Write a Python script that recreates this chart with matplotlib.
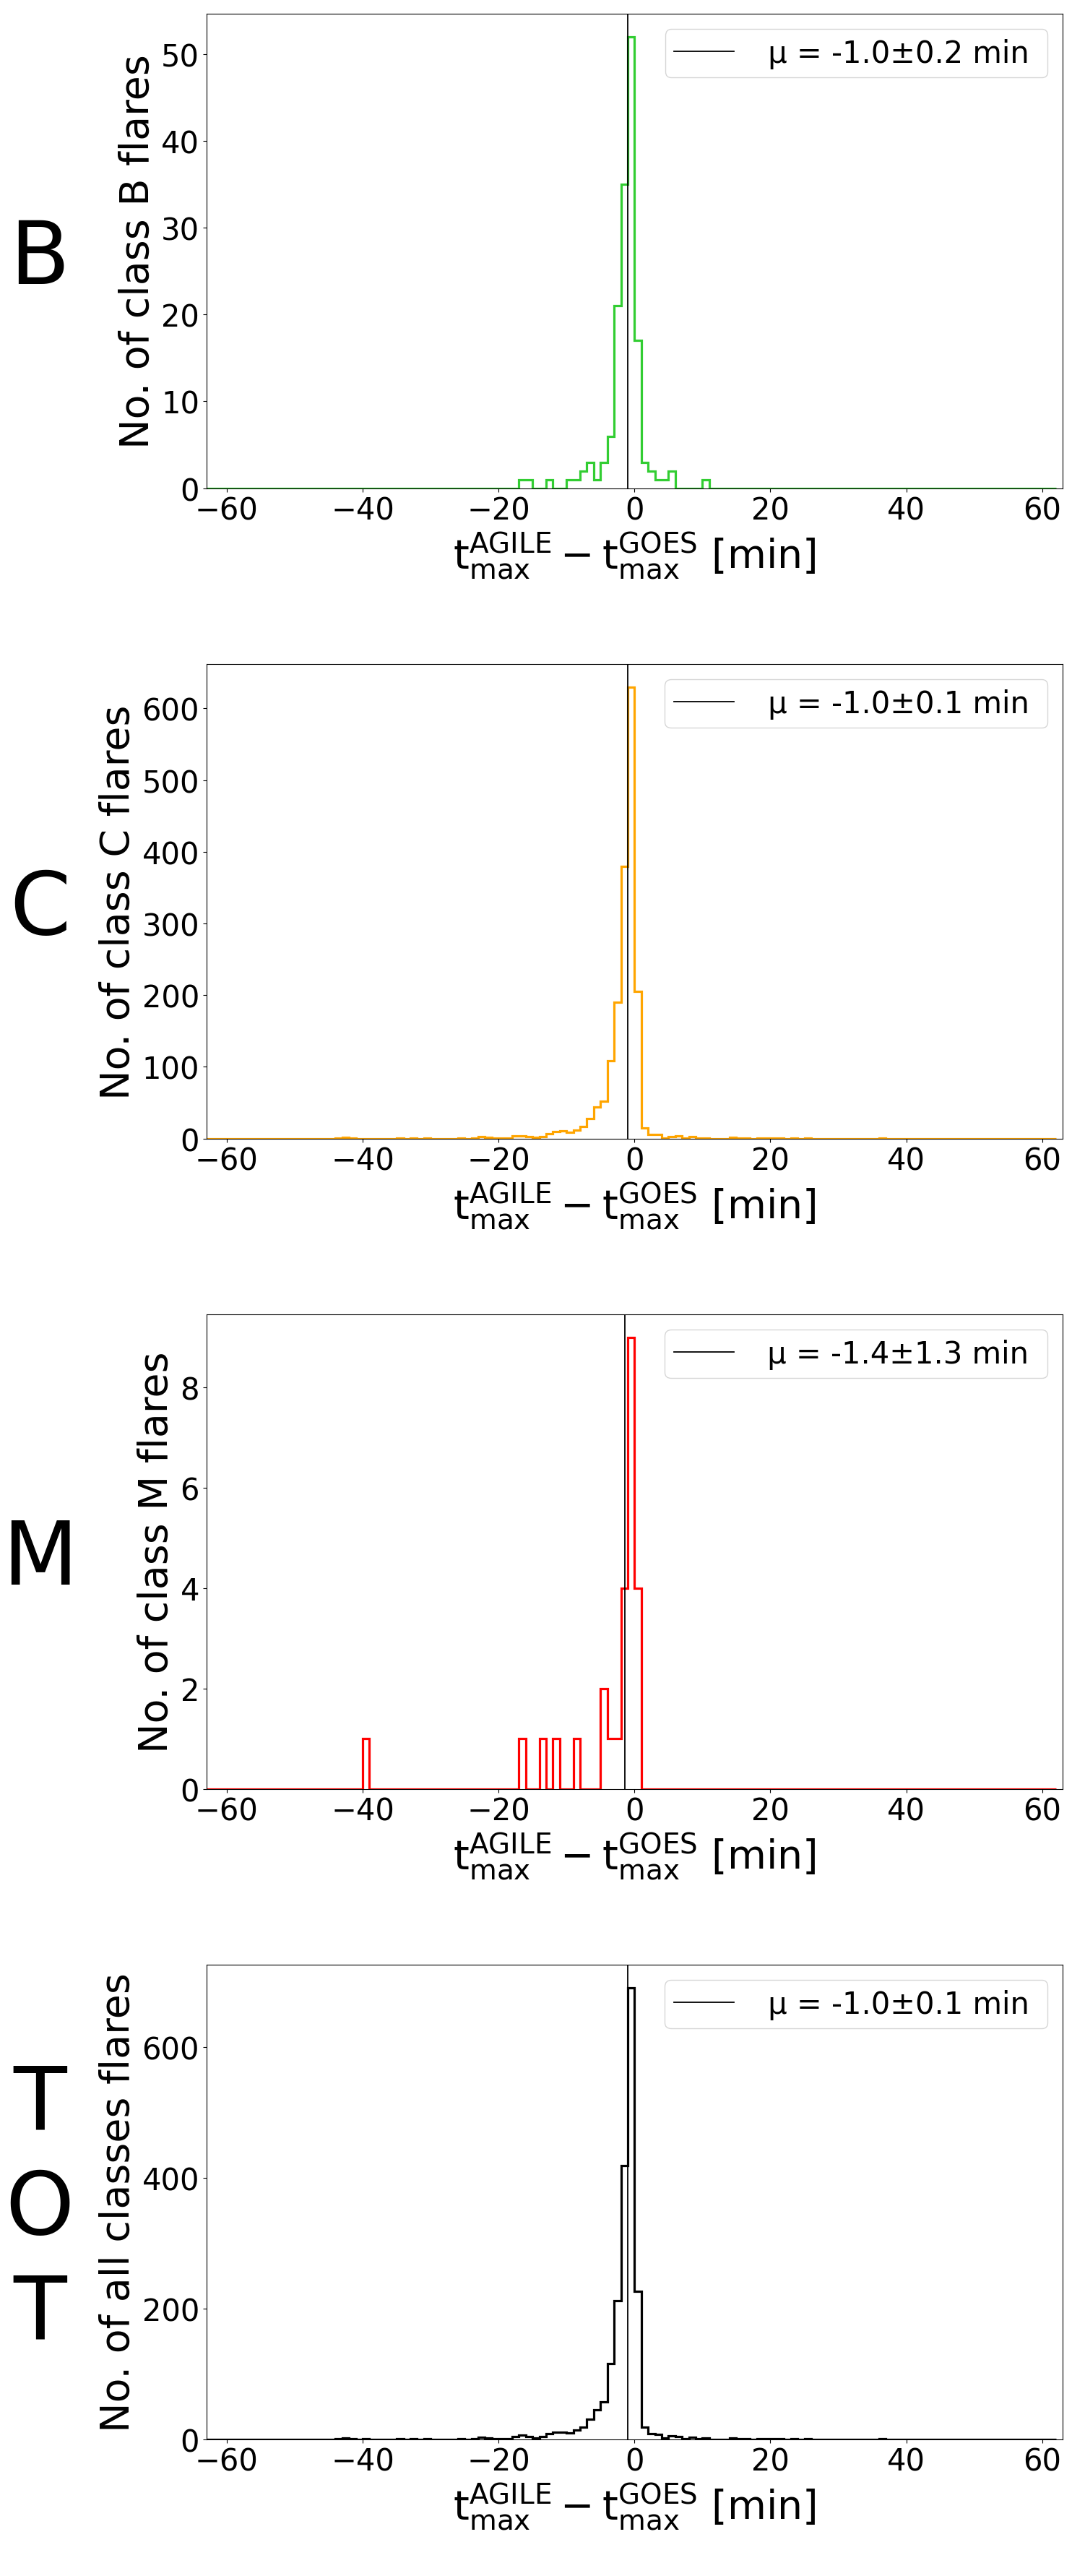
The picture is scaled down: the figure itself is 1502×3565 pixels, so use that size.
# Histograms of AGILE - GOES peak time difference per flare class

import numpy as np
import matplotlib
matplotlib.use("Agg")
import matplotlib.pyplot as plt
from matplotlib.ticker import MultipleLocator

plt.rcParams['mathtext.default'] = 'regular'

# bin edges (1 min wide)
edges = np.arange(-63, 63)

# non-empty bins: left edge of the bin and number of flares
b_bins = [-17, -16, -13, -10, -9, -8, -7, -6, -5, -4, -3, -2, -1, 0, 1, 2, 3, 4, 5, 10]
b_counts = [1, 1, 1, 1, 1, 2, 3, 1, 3, 6, 21, 35, 52, 17, 3, 2, 1, 1, 2, 1]

c_bins = [-44, -43, -42, -35, -33, -31, -26, -24, -23, -22, -21, -20, -19,
          -18, -17, -16, -15, -14, -13, -12, -11, -10, -9, -8, -7, -6, -5,
          -4, -3, -2, -1, 0, 1, 2, 3, 4, 5, 6, 7, 8, 9, 10, 14, 15, 16, 18,
          19, 20, 21, 23, 25, 36]
c_counts = [1, 2, 1, 1, 1, 1, 1, 1, 3, 2, 1, 1, 1,
            4, 4, 3, 2, 3, 7, 10, 11, 9, 12, 17, 28, 44, 52,
            109, 190, 380, 630, 205, 15, 6, 6, 1, 3, 4, 1, 3, 1, 1, 2, 1, 1, 1,
            1, 1, 1, 1, 1, 1]

m_bins = [-40, -17, -14, -12, -9, -5, -4, -3, -2, -1, 0]
m_counts = [1, 1, 1, 1, 1, 2, 1, 1, 4, 9, 4]

classes = ["B", "C", "M", "TOT"]
colors = ["limegreen", "orange", "red", "black"]
ylabels = ["No. of class B flares", "No. of class C flares",
           "No. of class M flares", "No. of all classes flares"]
means = [-1.0, -1.0, -1.4, -1.0]
errors = [0.2, 0.1, 1.3, 0.1]
ytick_steps = [10, 100, 2, 200]


def fill(bins, counts):
    h = np.zeros(len(edges) - 1)
    for b, c in zip(bins, counts):
        h[b - edges[0]] = c
    return h


hist_b = fill(b_bins, b_counts)
hist_c = fill(c_bins, c_counts)
hist_m = fill(m_bins, m_counts)
hist_tot = hist_b + hist_c + hist_m
hists = [hist_b, hist_c, hist_m, hist_tot]

W, H = 1502, 3566
fig = plt.figure(figsize=(W / 100, H / 100), dpi=100)

for i in range(4):
    top = 20.4 + 900 * i
    bot = 676.7 + 900 * i
    ax = fig.add_axes([285.7 / W, 1 - bot / H, (1471 - 285.7) / W, (bot - top) / H])

    ax.hist(edges[:-1], bins=edges, weights=hists[i], histtype='step',
            color=colors[i], lw=2.3)
    ax.axvline(means[i], color='k', lw=1.3,
               label=" \u03bc = %.1f\u00b1%.1f min " % (means[i], errors[i]))

    ax.set_xlim(-63, 63)
    ax.set_ylim(0, 1.05 * hists[i].max())
    ax.xaxis.set_major_locator(MultipleLocator(20))
    ax.yaxis.set_major_locator(MultipleLocator(ytick_steps[i]))
    ax.tick_params(labelsize=30)
    ax.set_xlabel(r"$t_{max}^{AGILE} - t_{max}^{GOES}$ [min]", fontsize=40)
    ax.set_ylabel(ylabels[i], fontsize=40)
    ax.legend(loc='upper right', fontsize=30, borderpad=0.3)

    # big class letter on the left
    center = (top + bot) / 2
    if classes[i] == "TOT":
        for k, ch in enumerate("TOT"):
            fig.text(55 / W, 1 - (center - 102 + 145 * k) / H, ch,
                     fontsize=87, ha='center', va='baseline')
    else:
        fig.text(55 / W, 1 - (center + 44) / H, classes[i],
                 fontsize=87, ha='center', va='baseline')

plt.savefig('out.png', dpi=100)
